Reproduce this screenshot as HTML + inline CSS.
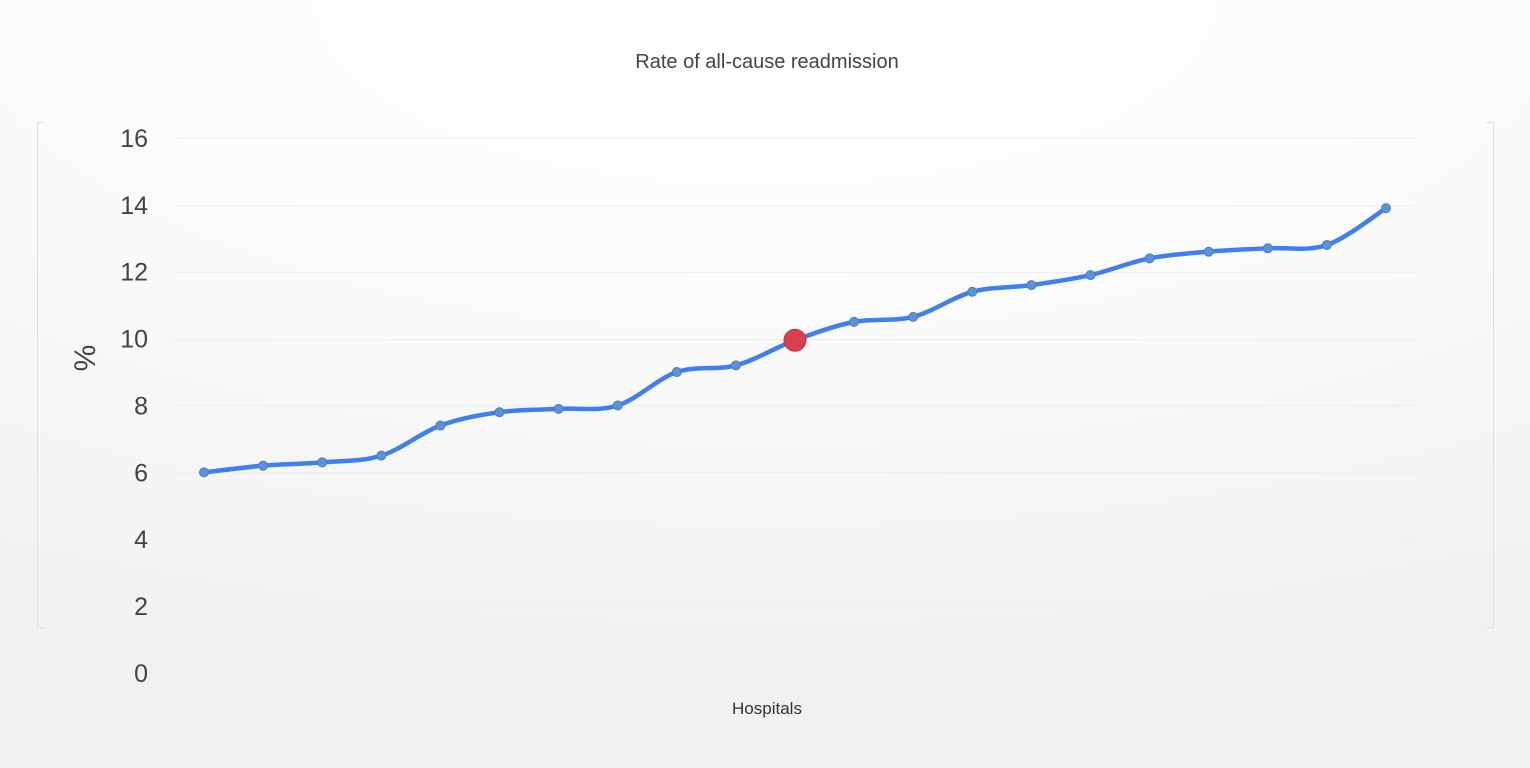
<!DOCTYPE html>
<html><head><meta charset="utf-8"><style>
html,body{margin:0;padding:0;}
body{width:1530px;height:768px;overflow:hidden;background:radial-gradient(ellipse 110% 90% at 50% 0%,#ffffff 0%,#fbfbfb 45%,#f1f1f1 100%);font-family:"Liberation Sans",sans-serif;}
</style></head><body>
<svg id="s" width="1530" height="768" xmlns="http://www.w3.org/2000/svg" style="position:absolute;left:0;top:0">
<text x="767" y="68" text-anchor="middle" font-size="20" fill="#444">Rate of all-cause readmission</text>
<g stroke="#e0e0e0" stroke-width="1" fill="none">
<path d="M45 122.5H37.5V627.5H45"/>
<path d="M1486 122.5H1493.5V627.5H1486"/>
</g>
<g id="grid" stroke="#efefef" stroke-width="1"></g>
<g id="lab" font-size="25" fill="#444" text-anchor="end"></g>
<text x="85" y="358" font-size="30" fill="#444" text-anchor="middle" transform="rotate(-90 85 358)" dy="10">%</text>
<text x="767" y="714" text-anchor="middle" font-size="17" fill="#333">Hospitals</text>
<path id="line" fill="none" stroke="#3f7ff0" stroke-width="4.5" stroke-linecap="round"/>
<g id="pts"></g>
</svg>
<script>
var ns="http://www.w3.org/2000/svg";
function Y(v){return 673-v*33.44;}
var g=document.getElementById('grid'),l=document.getElementById('lab');
for(var i=0;i<=8;i++){var y=Y(i*2);
var ln=document.createElementNS(ns,'line');ln.setAttribute('x1',173);ln.setAttribute('x2',1415);ln.setAttribute('y1',Math.round(y)+0.5);ln.setAttribute('y2',Math.round(y)+0.5);g.appendChild(ln);
var t=document.createElementNS(ns,'text');t.setAttribute('x',148);t.setAttribute('y',y+9);t.textContent=i*2;l.appendChild(t);}
var v=[6.0,6.2,6.3,6.5,7.4,7.8,7.9,8.0,9.0,9.2,9.95,10.5,10.65,11.4,11.6,11.9,12.4,12.6,12.7,12.8,13.9];
var P=v.map(function(a,i){return [204+i*59.1,Y(a)];});
var d='M'+P[0][0]+' '+P[0][1];
for(var i=0;i<P.length-1;i++){var p0=P[i-1]||P[i],p1=P[i],p2=P[i+1],p3=P[i+2]||P[i+1];var k=6;
d+=' C'+(p1[0]+(p2[0]-p0[0])/k)+' '+(p1[1]+(p2[1]-p0[1])/k)+' '+(p2[0]-(p3[0]-p1[0])/k)+' '+(p2[1]-(p3[1]-p1[1])/k)+' '+p2[0]+' '+p2[1];}
document.getElementById('line').setAttribute('d',d);
var pg=document.getElementById('pts');
P.forEach(function(p,i){var c=document.createElementNS(ns,'circle');c.setAttribute('cx',p[0]);c.setAttribute('cy',p[1]);
if(i==10){c.setAttribute('r',11);c.setAttribute('fill','#d9404f');c.setAttribute('stroke','#c53545');}
else{c.setAttribute('r',4.5);c.setAttribute('fill','#5b93d6');c.setAttribute('stroke','#4a7fc0');}
pg.appendChild(c);});
</script>
</body></html>
